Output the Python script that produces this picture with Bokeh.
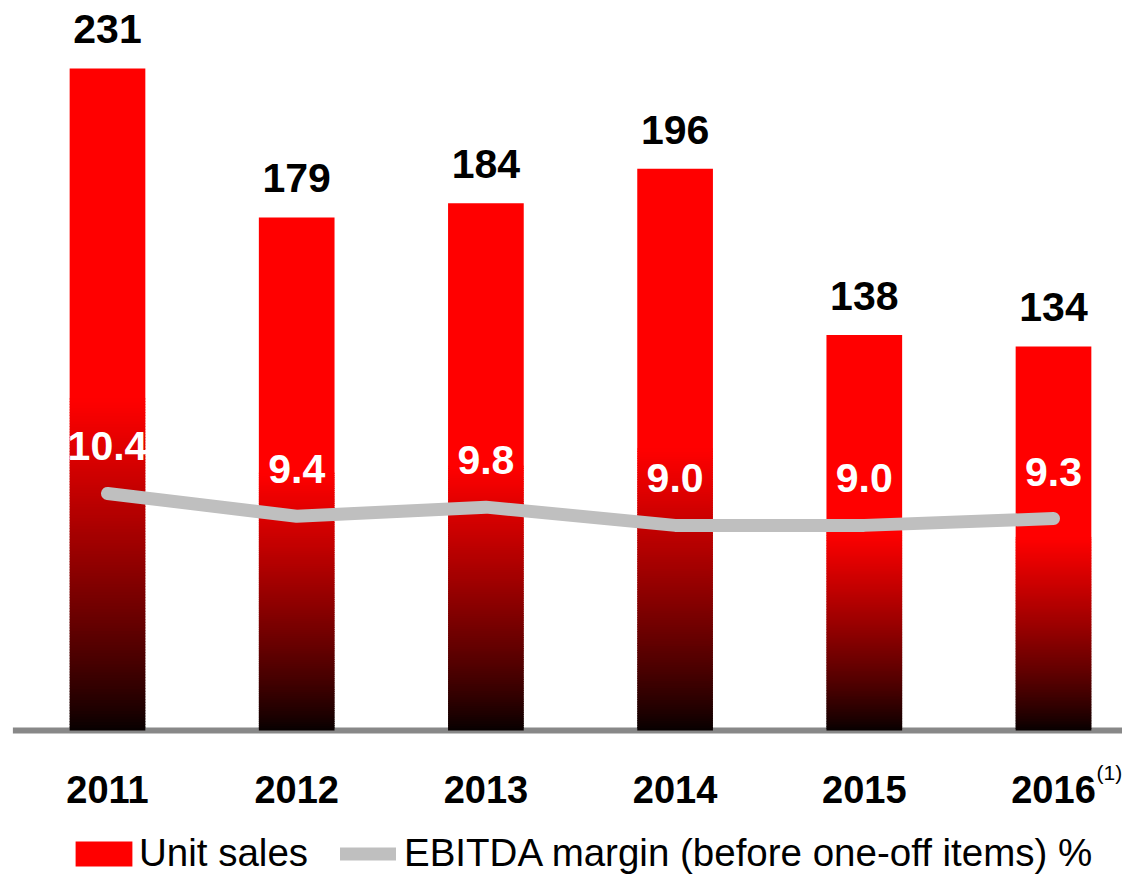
from bokeh.plotting import figure
from bokeh.models import Range1d, Legend, LegendItem, ColumnDataSource
from bokeh.core.properties import value
from bokeh.embed import file_html
from bokeh.resources import INLINE

years = ["2011", "2012", "2013", "2014", "2015", "2016"]
unit_sales = [231, 179, 184, 196, 138, 134]
ebitda_margin = [10.4, 9.4, 9.8, 9.0, 9.0, 9.3]
margin_labels = ["10.4", "9.4", "9.8", "9.0", "9.0", "9.3"]
footnote = "(1)"

FONT = "Liberation Sans"
W, H = 1122, 877
x = list(range(len(years)))

p = figure(width=W, height=H, output_backend="svg", toolbar_location=None,
           x_range=Range1d(-0.5655, 5.3647), y_range=Range1d(-51.29, 254.7),
           min_border=0, outline_line_color=None)
p.extra_y_ranges = {"margin": Range1d(-6.45, 32.03)}
p.xaxis.visible = False
p.yaxis.visible = False
p.xgrid.visible = False
p.ygrid.visible = False

# baseline axis line (drawn first, under the bars)
p.segment(x0=[x[0] - 0.5], x1=[x[-1] + 1], y0=[0], y1=[0],
          line_color="#888888", line_width=6)

# gradient bars: top half solid red, bottom half red -> black
N = 120
bx, bb, bt, bc = [], [], [], []
for xi, v in zip(x, unit_sales):
    half = v / 2.0
    bx.append(xi); bb.append(half); bt.append(v); bc.append("#ff0000")
    for k in range(N):
        f0 = k / N
        f1 = (k + 1) / N
        frac = (f0 + f1) / 2
        r = int(round(6 + (255 - 6) * frac ** 0.85))
        bx.append(xi)
        bb.append(half * f0)
        bt.append(min(half * f1 + 0.4, half + 0.4))
        bc.append("#%02x0000" % r)
src = ColumnDataSource(dict(x=bx, bottom=bb, top=bt, color=bc))
p.vbar(x="x", bottom="bottom", top="top", width=0.40, fill_color="color",
       line_color=None, source=src)

# legend proxy for bars (solid red swatch)
proxy = p.vbar(x=[x[0]], bottom=[0], top=[0], width=0.40, fill_color="#ff0000",
               line_color=None)

line = p.line(x=x, y=ebitda_margin, y_range_name="margin", line_color="#bfbfbf",
              line_width=13, line_cap="round", line_join="round")

p.text(x=x, y=unit_sales, text=[str(v) for v in unit_sales], text_align="center",
       text_baseline="alphabetic", y_offset=-39, text_font=value(FONT),
       text_font_style="bold", text_font_size="41px", text_color="black")

p.text(x=x, y=ebitda_margin, y_range_name="margin", text=margin_labels, text_align="center",
       text_baseline="alphabetic", y_offset=-47, text_font=value(FONT),
       text_font_style="bold", text_font_size="41px", text_color="white")

p.text(x=x, y=[0] * len(x), text=years, text_align="center",
       text_baseline="alphabetic", y_offset=59, text_font=value(FONT),
       text_font_style="bold", text_font_size="38px", text_color="black")

p.text(x=[x[-1]], y=[0], text=[footnote], text_align="left",
       text_baseline="alphabetic", x_offset=43, y_offset=42, text_font=value(FONT),
       text_font_size="21px", text_color="black")

common = dict(orientation="horizontal", padding=0, margin=0,
              label_text_font=FONT, label_text_font_size="38.5px",
              label_text_color="black", border_line_color=None,
              background_fill_alpha=0)

legend1 = Legend(items=[LegendItem(label="Unit sales", renderers=[proxy])],
                 location=(68, 2), label_standoff=0, glyph_width=71, glyph_height=31,
                 **common)
legend2 = Legend(items=[LegendItem(label="EBITDA margin (before one-off items) %",
                                   renderers=[line])],
                 location=(340, 2), label_standoff=8, glyph_width=56, glyph_height=31,
                 **common)
p.add_layout(legend1, "center")
p.add_layout(legend2, "center")

open("out.html", "w").write(file_html(p, INLINE))
